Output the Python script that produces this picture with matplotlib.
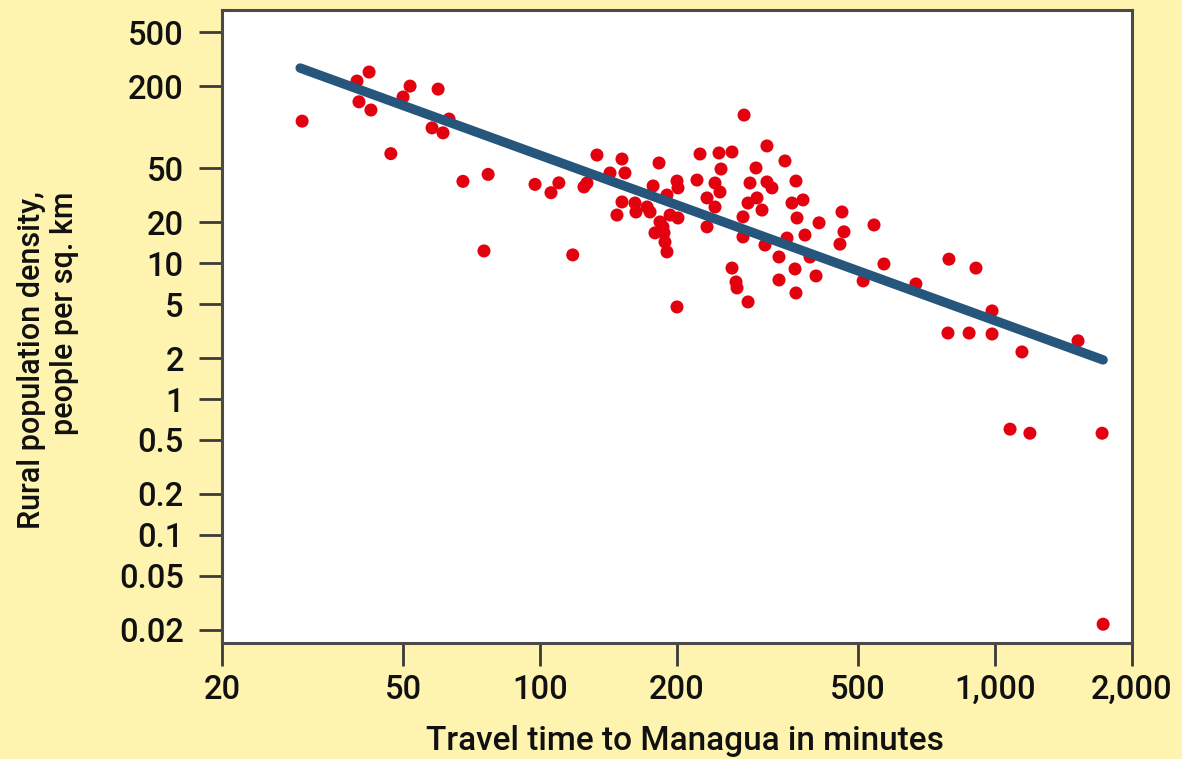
import matplotlib
matplotlib.use("Agg")
import matplotlib.pyplot as plt
from matplotlib.ticker import FixedLocator, FixedFormatter, NullLocator

plt.rcParams['font.family'] = ['Roboto', 'Liberation Sans', 'DejaVu Sans']
plt.rcParams['font.weight'] = 'medium'

# travel time (minutes) and rural population density (people per sq. km)
travel_time = [
    30, 39.6, 42.1, 40.0, 42.5, 50.0, 51.8, 59.7, 63.1, 57.9, 61.2, 47.0,
    67.7, 76.9, 75.3, 97.5, 105.7, 110, 118,
    124.9, 126.8, 133.4, 142.5, 151.4, 153.7, 147.6, 151.4, 161.7, 162.5,
    171.9, 174.5, 177.2, 182.6, 190.1, 200, 201, 183.5, 186.3, 178.9, 187.3,
    188.2, 190.1, 193.1, 201, 200, 221.3, 224.7, 232.8, 232.8,
    247.4, 264.2, 280.8, 315.3, 345.4, 249.9, 298.3, 242.4, 248.6, 289.4,
    315.3, 323.4, 365.2, 242.4, 286.5, 299.8, 307.5, 357.9, 378.4, 367.1,
    410.4, 460.9, 465.6, 456.2, 279.3, 279.3, 312.2, 349.0, 382.2, 335.1,
    392.0, 264.2, 269.6, 271.0, 286.5, 335.1, 363.4, 404.2, 365.2,
    542, 570, 513, 670, 792, 908, 985, 788, 877, 985, 1146, 1522, 1079,
    1193, 1719, 1728,
]
density = [
    111, 219, 255, 154, 134, 167, 201, 191, 115, 99, 91, 64,
    40, 45, 12.3, 38, 33, 39, 11.5,
    36.4, 38.9, 62.5, 46.1, 58.4, 46.1, 22.6, 28.2, 27.7, 23.8,
    25.9, 23.8, 37.0, 54.6, 31.7, 40.2, 35.8, 20.1, 18.5, 16.7, 16.7,
    14.3, 12.1, 22.6, 21.5, 4.76, 40.9, 63.6, 30.2, 18.5,
    64.7, 65.8, 123, 72.9, 56.5, 49.3, 50.2, 38.9, 33.4, 38.9,
    39.6, 35.8, 40.2, 25.9, 27.7, 30.2, 24.6, 27.7, 29.2, 21.5,
    19.8, 23.8, 17.0, 13.8, 21.9, 15.6, 13.6, 15.3, 16.1, 11.1,
    11.1, 9.2, 7.27, 6.57, 5.18, 7.52, 9.06, 8.05, 6.03,
    19.1, 9.86, 7.40, 7.03, 10.7, 9.2, 4.45, 3.06, 3.06, 3.01, 2.22, 2.68, 0.60,
    0.56, 0.56, 0.022,
]

# fitted trend line
fit_x = [29.7, 1728]
fit_y = [273, 1.94]

x_ticks = [20, 50, 100, 200, 500, 1000, 2000]
x_labels = ['20', '50', '100', '200', '500', '1,000', '2,000']
y_ticks = [500, 200, 50, 20, 10, 5, 2, 1, 0.5, 0.2, 0.1, 0.05, 0.02]
y_labels = ['500', '200', '50', '20', '10', '5', '2', '1', '0.5', '0.2', '0.1', '0.05', '0.02']

bg = '#FEF4B0'
fig = plt.figure(figsize=(11.82, 7.59), dpi=100, facecolor=bg)
ax = fig.add_axes([222 / 1182, 1 - 643 / 759, 910 / 1182, 633 / 759])
ax.set_facecolor('white')

ax.scatter(travel_time, density, s=88, color='#E3000F', edgecolors='none', zorder=2)
ax.plot(fit_x, fit_y, color='#27567C', lw=6.8, solid_capstyle='round', zorder=3)

ax.set_xscale('log')
ax.set_yscale('log')
ax.set_xlim(20, 2000)
ax.set_ylim(0.016, 730)

ax.xaxis.set_major_locator(FixedLocator(x_ticks))
ax.xaxis.set_major_formatter(FixedFormatter(x_labels))
ax.xaxis.set_minor_locator(NullLocator())
ax.yaxis.set_major_locator(FixedLocator(y_ticks))
ax.yaxis.set_major_formatter(FixedFormatter(y_labels))
ax.yaxis.set_minor_locator(NullLocator())

ax.tick_params(axis='both', length=16.5, width=2, color='#3a3a3a', labelsize=23.5,
               labelcolor='#111111')
ax.tick_params(axis='y', pad=11)
ax.tick_params(axis='x', pad=6)

for side in ['left', 'right', 'top', 'bottom']:
    ax.spines[side].set_color('#4a4a4a')
    ax.spines[side].set_linewidth(2.2)

fig.text(685 / 1182, 1 - 741 / 759, 'Travel time to Managua in minutes',
         ha='center', va='center', fontsize=24, color='#111111')
fig.text(48 / 1182, 1 - 360 / 759, 'Rural population density,\npeople per sq. km',
         ha='center', va='center', rotation=90, multialignment='right',
         fontsize=22, color='#111111', linespacing=1.15)

fig.savefig('out.png', dpi=100, facecolor=bg)
